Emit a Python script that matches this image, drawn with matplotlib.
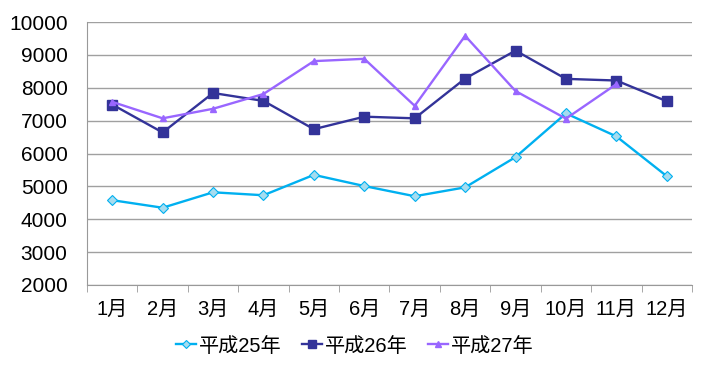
import matplotlib

matplotlib.use("Agg")
import matplotlib.pyplot as plt
from matplotlib.ticker import FixedLocator, NullFormatter

plt.rcParams["font.family"] = ["Liberation Sans", "Noto Sans CJK JP", "DejaVu Sans"]

months = ["1月", "2月", "3月", "4月", "5月", "6月", "7月", "8月", "9月", "10月", "11月", "12月"]
h25 = [4580, 4350, 4820, 4730, 5350, 5010, 4700, 4970, 5890, 7220, 6520, 5310]
h26 = [7490, 6640, 7840, 7600, 6740, 7120, 7070, 8280, 9130, 8270, 8220, 7590]
h27 = [7570, 7070, 7360, 7810, 8810, 8880, 7450, 9580, 7900, 7060, 8110]
labels = ["平成25年", "平成26年", "平成27年"]

fig = plt.figure(figsize=(7.09, 3.73), dpi=100)
ax = fig.add_axes([87 / 709, 1 - 285 / 373, 605 / 709, 263 / 373])

x = list(range(len(months)))
ax.plot(x, h25, "-D", color="#00b0f0", lw=1.7, ms=5, mfc="#a6dcef", mec="#00b0f0",
        mew=0.8, label=labels[0], zorder=3)
ax.plot(x, h26, "-s", color="#333399", lw=1.7, ms=6.5, mfc="#333399", mec="#333399",
        label=labels[1], zorder=3)
ax.plot(x[:len(h27)], h27, "-^", color="#9966ff", lw=1.7, ms=5, mfc="#9966ff",
        mec="#9966ff", label=labels[2], zorder=3)

ax.set_xlim(-0.5, len(months) - 0.5)
ax.set_ylim(2000, 10000)
ax.set_yticks(range(2000, 10001, 1000))
ax.tick_params(axis="y", length=0, labelsize=15, pad=14)

ax.set_xticks(x)
ax.set_xticklabels(months)
ax.tick_params(axis="x", which="major", length=0, labelsize=14.5, pad=11)
ax.xaxis.set_minor_locator(FixedLocator([i - 0.5 for i in range(len(months) + 1)]))
ax.xaxis.set_minor_formatter(NullFormatter())
ax.tick_params(axis="x", which="minor", length=5, color="#999999", direction="out")

ax.grid(axis="y", color="#a0a0a0", lw=1)
ax.set_axisbelow(True)
for side in ["top", "right"]:
    ax.spines[side].set_visible(False)
for side in ["left", "bottom"]:
    ax.spines[side].set_color("#999999")

fig.legend(loc="center", bbox_to_anchor=(355 / 709, 1 - 346 / 373), ncol=3, frameon=False,
           fontsize=14.5, handlelength=1.0, handletextpad=0.15, columnspacing=1.0,
           markerscale=0.8)

fig.savefig("out.png", dpi=100)
